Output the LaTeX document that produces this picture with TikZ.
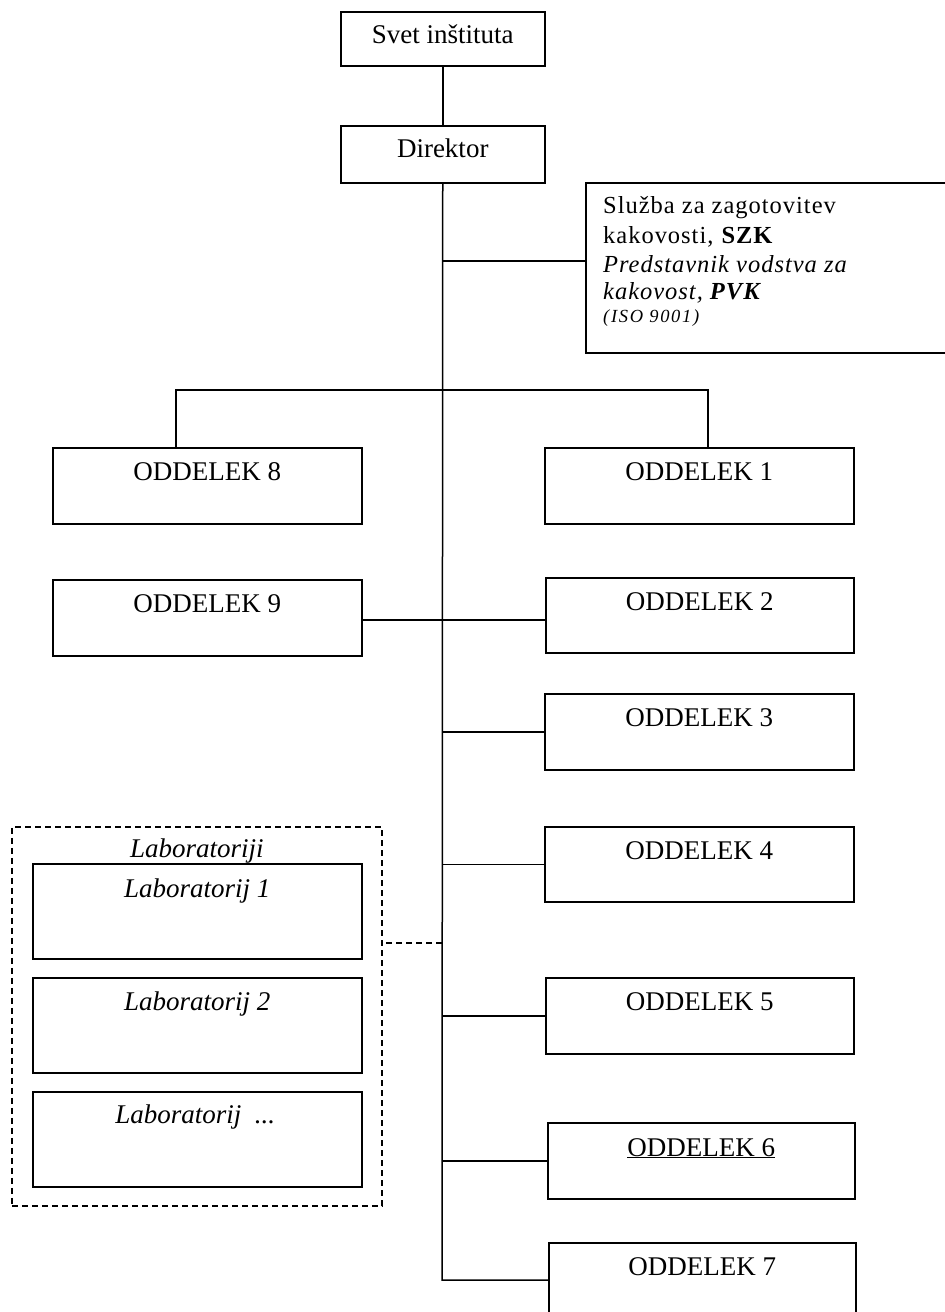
\documentclass[tikz,border=0pt]{standalone}
\usepackage{fontspec}
\setmainfont{Liberation Serif}
\newfontfamily\szkfont[LetterSpace=4]{Liberation Serif}
\newfontfamily\isofont[LetterSpace=9]{Liberation Serif}
\usetikzlibrary{calc}
\begin{document}
\begin{tikzpicture}[x=1pt,y=-1pt,
  box/.style={draw, rectangle, line width=1.5pt, inner sep=0pt, anchor=north west},
  txt/.style={anchor=base, inner sep=0pt, font=\fontsize{27}{32}\selectfont},
  szk/.style={anchor=base west, inner sep=0pt, font=\szkfont\fontsize{24.5}{29}\selectfont},
  link/.style={line width=1.5pt},
  dashlink/.style={line width=1.8pt, dash pattern=on 6pt off 4pt}]
\useasboundingbox (0,0) rectangle (945,1312);

% top of the hierarchy
\node[box, minimum width=204, minimum height=54] (svet) at (340,11) {};
\node[txt] (svett) at ([yshift=-32pt]svet.north) {Svet inštituta};
\node[box, minimum width=204, minimum height=57] (dir) at (340,125) {};
\node[txt] (dirt) at ([yshift=-32pt]dir.north) {Direktor};

% quality service (box runs past the right edge)
\node[box, minimum width=375, minimum height=170] (szk) at (585,182) {};
\node[szk] (szk1) at (603,213) {Služba za zagotovitev};
\node[szk] (szk2) at (603,243) {kakovosti, \textbf{SZK}};
\node[szk] (szk3) at (603,272) {\itshape Predstavnik vodstva za};
\node[szk] (szk4) at (603,299) {\itshape kakovost, \textbf{PVK}};
\node[anchor=base west, inner sep=0pt, font=\isofont\itshape\fontsize{18.5}{22}\selectfont] (szk5) at (603,322) {(ISO 9001)};

% departments
\node[box, minimum width=309, minimum height=76] (o8) at (52,447) {};
\node[txt] (o8t) at ([yshift=-33pt]o8.north) {ODDELEK 8};
\node[box, minimum width=309, minimum height=76] (o9) at (52,579) {};
\node[txt] (o9t) at ([yshift=-33pt]o9.north) {ODDELEK 9};

\node[box, minimum width=309, minimum height=76] (o1) at (544,447) {};
\node[txt] (o1t) at ([yshift=-33pt]o1.north) {ODDELEK 1};
\node[box, minimum width=308, minimum height=75] (o2) at (545,577) {};
\node[txt] (o2t) at ([yshift=-33pt]o2.north) {ODDELEK 2};
\node[box, minimum width=309, minimum height=76] (o3) at (544,693) {};
\node[txt] (o3t) at ([yshift=-33pt]o3.north) {ODDELEK 3};
\node[box, minimum width=309, minimum height=75] (o4) at (544,826) {};
\node[txt] (o4t) at ([yshift=-33pt]o4.north) {ODDELEK 4};
\node[box, minimum width=308, minimum height=76] (o5) at (545,977) {};
\node[txt] (o5t) at ([yshift=-33pt]o5.north) {ODDELEK 5};
\node[box, minimum width=307, minimum height=76] (o6) at (547,1122) {};
\node[txt] (o6t) at ([yshift=-34pt]o6.north) {\underline{ODDELEK 6}};
\node[box, minimum width=307, minimum height=78] (o7) at (548,1242) {};
\node[txt] (o7t) at ([yshift=-33pt]o7.north) {ODDELEK 7};

% laboratories
\node[box, dashlink, minimum width=370, minimum height=379] (labs) at (11,826) {};
\node[txt, font=\itshape\fontsize{27}{32}\selectfont] (labst) at ([yshift=-31pt]labs.north) {Laboratoriji};
\node[box, minimum width=329, minimum height=95] (lab1) at (32,863) {};
\node[txt, font=\itshape\fontsize{27}{32}\selectfont] (lab1t) at ([yshift=-34pt]lab1.north) {Laboratorij 1};
\node[box, minimum width=329, minimum height=95] (lab2) at (32,977) {};
\node[txt, font=\itshape\fontsize{27}{32}\selectfont] (lab2t) at ([yshift=-33pt]lab2.north) {Laboratorij 2};
\node[box, minimum width=329, minimum height=95] (lab3) at (32,1091) {};
\node[txt, font=\itshape\fontsize{27}{32}\selectfont] (lab3t) at ([yshift=-32pt,xshift=-2pt]lab3.north) {Laboratorij\ \ ...};

% junction points on the main trunk
\coordinate (tb) at (442,1280);
\coordinate (jS) at (442,261);
\coordinate (b8) at (176,390);
\coordinate (b1) at (708,390);
\coordinate (jL) at (442,943);

% connectors
\draw[link] (svet.south) -- (dir.north);
\draw[link] (dir.south) -- (tb) -- (tb -| o7.west);
\draw[link] (jS) -- (jS -| szk.west);
\draw[link] (b8 |- o8.north) -- (b8) -- (b1) -- (b1 |- o1.north);
\draw[link] ([yshift=-2pt]o9.east) -- ([yshift=-2pt]o9.east -| o2.west);
\draw[link] (o3.west) -- (o3.west -| tb);
\draw[link] (o4.west) -- (o4.west -| tb);
\draw[link] (o5.west) -- (o5.west -| tb);
\draw[link] (o6.west) -- (o6.west -| tb);
\draw[dashlink] (jL) -- (jL -| labs.east);
\end{tikzpicture}
\end{document}
